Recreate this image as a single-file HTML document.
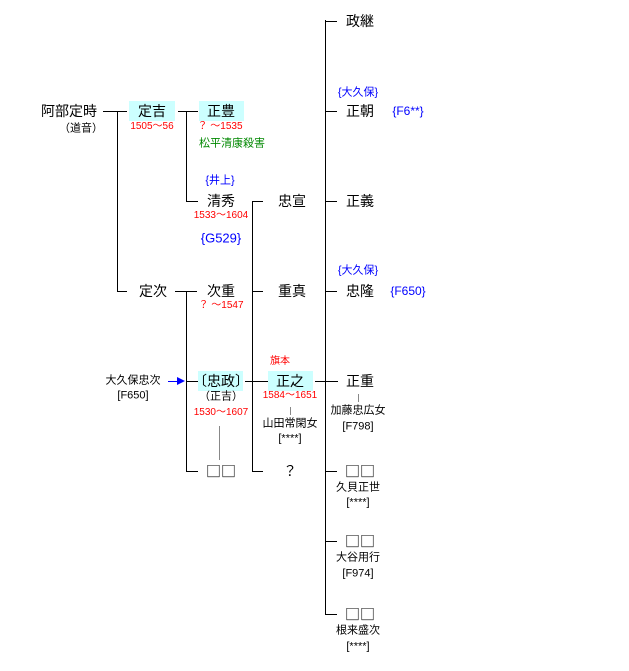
<!DOCTYPE html>
<html><head><meta charset="utf-8"><style>
body{margin:0;width:629px;height:671px;background:#fff;position:relative;overflow:hidden;font-family:"Liberation Sans","Noto Sans CJK JP",sans-serif;}
.t{position:absolute;transform:translate(-50%,-50%);white-space:nowrap;line-height:1;color:#000;font-size:14px;}
.sq{font-family:"Noto Sans CJK JP",sans-serif;font-size:15px}
.s{font-size:11px}
.r{color:#f00;font-size:10px}
.b{color:#00f;font-size:11px}
.g{color:#080;font-size:11px}
.h{position:absolute;height:1px;background:#000}
.v{position:absolute;width:1px;background:#000}
.bx{position:absolute;background:#ccffff;height:20px;top:101px}
</style></head><body>
<div class="bx" style="left:129px;width:46px"></div>
<div class="bx" style="left:199px;width:45px"></div>
<div class="bx" style="left:198px;width:45px;top:371px"></div>
<div class="bx" style="left:268px;width:45px;top:371px"></div>

<div class="h" style="left:103px;width:24px;top:111px"></div>
<div class="v" style="left:117px;top:111px;height:181px"></div>
<div class="h" style="left:117px;width:10px;top:291px"></div>
<div class="h" style="left:178px;width:20px;top:111px"></div>
<div class="v" style="left:186px;top:111px;height:91px"></div>
<div class="h" style="left:186px;width:12px;top:201px"></div>
<div class="h" style="left:175px;width:22px;top:291px"></div>
<div class="v" style="left:186px;top:291px;height:181px"></div>
<div class="h" style="left:186px;width:12px;top:381px"></div>
<div class="h" style="left:186px;width:12px;top:471px"></div>
<div class="v" style="left:252px;top:201px;height:271px"></div>
<div class="h" style="left:252px;width:11px;top:201px"></div>
<div class="h" style="left:252px;width:11px;top:291px"></div>
<div class="h" style="left:245px;width:23px;top:381px"></div>
<div class="h" style="left:252px;width:11px;top:471px"></div>
<div class="h" style="left:315px;width:23px;top:381px"></div>
<div class="v" style="left:325px;top:20px;height:595px"></div>
<div class="h" style="left:325px;width:12px;top:21px"></div>
<div class="h" style="left:325px;width:12px;top:111px"></div>
<div class="h" style="left:325px;width:12px;top:201px"></div>
<div class="h" style="left:325px;width:12px;top:291px"></div>
<div class="h" style="left:325px;width:12px;top:471px"></div>
<div class="h" style="left:325px;width:12px;top:541px"></div>
<div class="h" style="left:325px;width:12px;top:614px"></div>
<div class="v" style="left:219px;top:426px;height:34px;background:#888"></div>
<div class="v" style="left:290px;top:407px;height:8px;background:#888"></div>
<div class="v" style="left:358px;top:394px;height:8px;background:#888"></div>
<div class="h" style="left:168px;width:10px;top:381px;background:#00f"></div>
<div style="position:absolute;left:177px;top:377px;width:0;height:0;border-left:8px solid #00f;border-top:4px solid transparent;border-bottom:4px solid transparent"></div>

<div class="t" style="left:69px;top:111px">阿部定時</div>
<div class="t s" style="left:81px;top:129px">（道音）</div>
<div class="t" style="left:152px;top:111px">定吉</div>
<div class="t r" style="left:152px;top:127px">1505～56</div>
<div class="t" style="left:221px;top:111px">正豊</div>
<div class="t r" style="left:220px;top:127px">？ ～1535</div>
<div class="t g" style="left:232px;top:144px">松平清康殺害</div>
<div class="t b" style="left:220px;top:181px">{井上}</div>
<div class="t" style="left:221px;top:201px">清秀</div>
<div class="t r" style="left:221px;top:216px">1533～1604</div>
<div class="t b" style="left:221px;top:238px;font-size:13px">{G529}</div>
<div class="t" style="left:292px;top:201px">忠宣</div>
<div class="t" style="left:292px;top:291px">重真</div>
<div class="t" style="left:153px;top:291px">定次</div>
<div class="t" style="left:221px;top:291px">次重</div>
<div class="t r" style="left:221px;top:306px">？ ～1547</div>
<div class="t s" style="left:133px;top:381px">大久保忠次</div>
<div class="t s" style="left:133px;top:396px">[F650]</div>
<div class="t" style="left:221px;top:381px">〔忠政〕</div>
<div class="t s" style="left:221px;top:397px">（正吉）</div>
<div class="t r" style="left:221px;top:413px">1530～1607</div>
<div class="t r" style="left:280px;top:362px">旗本</div>
<div class="t" style="left:290px;top:381px">正之</div>
<div class="t r" style="left:290px;top:396px">1584～1651</div>
<div class="t s" style="left:290px;top:424px">山田常閑女</div>
<div class="t s" style="left:290px;top:439px">[****]</div>
<div class="t sq" style="left:221px;top:471px">□□</div>
<div class="t" style="left:290px;top:471px">？</div>
<div class="t" style="left:360px;top:21px">政継</div>
<div class="t b" style="left:358px;top:93px">{大久保}</div>
<div class="t" style="left:360px;top:111px">正朝</div>
<div class="t b" style="left:408px;top:111px;font-size:12px">{F6**}</div>
<div class="t" style="left:360px;top:201px">正義</div>
<div class="t b" style="left:358px;top:271px">{大久保}</div>
<div class="t" style="left:360px;top:291px">忠隆</div>
<div class="t b" style="left:408px;top:291px;font-size:12px">{F650}</div>
<div class="t" style="left:360px;top:381px">正重</div>
<div class="t s" style="left:358px;top:411px">加藤忠広女</div>
<div class="t s" style="left:358px;top:427px">[F798]</div>
<div class="t sq" style="left:360px;top:471px">□□</div>
<div class="t s" style="left:358px;top:488px">久貝正世</div>
<div class="t s" style="left:358px;top:503px">[****]</div>
<div class="t sq" style="left:360px;top:541px">□□</div>
<div class="t s" style="left:358px;top:558px">大谷用行</div>
<div class="t s" style="left:358px;top:574px">[F974]</div>
<div class="t sq" style="left:360px;top:614px">□□</div>
<div class="t s" style="left:358px;top:631px">根来盛次</div>
<div class="t s" style="left:358px;top:647px">[****]</div>
</body></html>
